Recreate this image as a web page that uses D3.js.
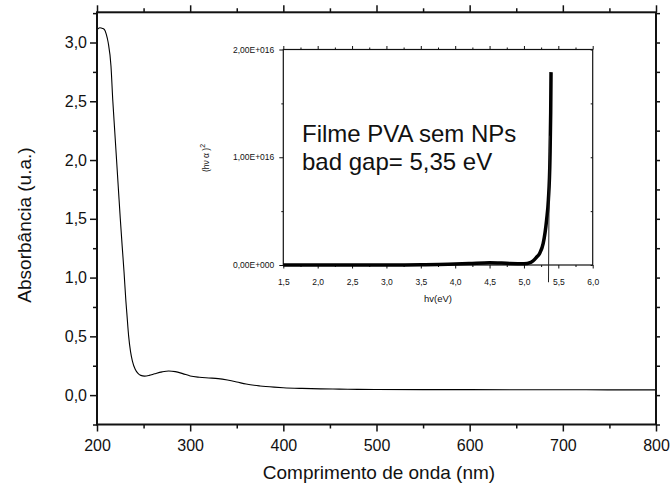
<!DOCTYPE html>
<html>
<head>
<meta charset="utf-8">
<script src="https://cdn.jsdelivr.net/npm/d3@7"></script>
<style>
  body { margin: 0; background: #fff; }
  svg { display: block; font-family: "Liberation Sans", Arial, sans-serif; }
  .tick text { fill: #111; }
</style>
</head>
<body>
<svg class="chart" width="670" height="491"></svg>
<script>
// main spectrum
const wavelength = [200, 203, 206, 208, 210, 212, 215, 217, 219, 221, 223, 225, 227, 229, 231, 232, 234, 236, 238, 241, 244, 247, 251, 256, 262, 270, 277, 284, 292, 300, 310, 320, 330, 340, 350, 360, 375, 390, 400, 420, 440, 460, 480, 500, 550, 600, 650, 700, 750, 800]
const absorbance = [3.11, 3.125, 3.12, 3.11, 3.07, 3.0, 2.8, 2.5, 2.25, 2.0, 1.75, 1.5, 1.27, 1.05, 0.8, 0.7, 0.5, 0.37, 0.29, 0.22, 0.185, 0.168, 0.162, 0.168, 0.182, 0.198, 0.205, 0.2, 0.183, 0.163, 0.152, 0.146, 0.14, 0.128, 0.112, 0.094, 0.078, 0.068, 0.063, 0.057, 0.053, 0.051, 0.049, 0.048, 0.047, 0.047, 0.046, 0.046, 0.045, 0.045]

// inset: Tauc plot
const energy = [1.5, 2.0, 2.5, 3.0, 3.5, 3.9, 4.2, 4.5, 4.8, 5.0, 5.1, 5.18, 5.23, 5.28, 5.33, 5.355, 5.379, 5.389, 5.394]
const tauc = [0, 0, 0, 0, 0.002e16, 0.006e16, 0.013e16, 0.022e16, 0.014e16, 0.012e16, 0.025e16, 0.07e16, 0.11e16, 0.2e16, 0.42e16, 0.6e16, 1.0e16, 1.41e16, 1.79e16]
const gapEnergy = [5.372, 5.357]
const gapTauc = [1.2e16, -0.16e16]

const xMajor = [200, 300, 400, 500, 600, 700, 800]
const xMinor = [250, 350, 450, 550, 650, 750]
const yMajor = [0, 0.5, 1.0, 1.5, 2.0, 2.5, 3.0]
const yMinor = [-0.25, 0.25, 0.75, 1.25, 1.75, 2.25, 2.75, 3.25]
const insetXMajor = [1.5, 2.0, 2.5, 3.0, 3.5, 4.0, 4.5, 5.0, 5.5, 6.0]
const insetXMinor = [1.75, 2.25, 2.75, 3.25, 3.75, 4.25, 4.75, 5.25, 5.75]
const insetYMajor = [0, 1e16, 2e16]
const insetYMinor = [0.5e16, 1.5e16]
const insetYLabels = ["0,00E+000", "1,00E+016", "2,00E+016"]

const pt = d3.formatLocale({decimal: ",", thousands: ".", grouping: [3], currency: ["R$", ""]})
const fmt1 = pt.format(".1f")

const svg = d3.select('.chart')

const x = d3.scaleLinear([200, 800], [97, 656])
const y = d3.scaleLinear([-0.25, 3.257], [424.5, 12.3])

// minor ticks first, then majors with labels
function ticks(g, axis, vals, size, labels) {
    const a = axis.tickValues(vals).tickSize(size).tickSizeOuter(0)
    if (!labels) a.tickFormat('')
    g.call(a)
    g.select('.domain').remove()
    g.selectAll('.tick line').attr('stroke', '#111').attr('stroke-width', 1.5)
    return g
}

ticks(svg.append('g').attr('transform', 'translate(0,424.5)'), d3.axisBottom(x), xMinor, 4)
ticks(svg.append('g').attr('transform', 'translate(0,424.5)'), d3.axisBottom(x).tickPadding(8), xMajor, 7, true)
    .selectAll('text').attr('font-size', '16px')
ticks(svg.append('g').attr('transform', 'translate(0,12.3)'), d3.axisTop(x), xMinor, 4)
ticks(svg.append('g').attr('transform', 'translate(0,12.3)'), d3.axisTop(x), xMajor, 7)

ticks(svg.append('g').attr('transform', 'translate(97,0)'), d3.axisLeft(y), yMinor, 4)
ticks(svg.append('g').attr('transform', 'translate(97,0)'), d3.axisLeft(y).tickPadding(3).tickFormat(fmt1), yMajor, 7, true)
    .selectAll('text').attr('font-size', '16px')
ticks(svg.append('g').attr('transform', 'translate(656,0)'), d3.axisRight(y), yMinor.concat(yMajor), 4)

svg.append('path')
    .datum(wavelength.map((w, i) => [w, absorbance[i]]))
    .attr('fill', 'none')
    .attr('stroke', '#000')
    .attr('stroke-width', 1.1)
    .attr('d', d3.line().x(d => x(d[0])).y(d => y(d[1])).curve(d3.curveMonotoneX))

svg.append('rect')
    .attr('x', x(200)).attr('y', y(3.257))
    .attr('width', x(800) - x(200)).attr('height', y(-0.25) - y(3.257))
    .attr('fill', 'none').attr('stroke', '#111').attr('stroke-width', 2)

svg.append('text')
    .text('Comprimento de onda (nm)')
    .attr('x', 379).attr('y', 479)
    .attr('text-anchor', 'middle')
    .attr('font-size', '19px').attr('fill', '#111')

svg.append('text')
    .text('Absorbância (u.a.)')
    .attr('transform', 'translate(31,225) rotate(-90)')
    .attr('text-anchor', 'middle')
    .attr('font-size', '19px').attr('fill', '#111')

// inset
const ix = d3.scaleLinear([1.5, 6.0], [283.3, 592.7])
const iy = d3.scaleLinear([0, 2e16], [265, 49.5])

svg.append('rect')
    .attr('x', ix(1.5)).attr('y', iy(2e16))
    .attr('width', ix(6) - ix(1.5)).attr('height', iy(0) - iy(2e16))
    .attr('fill', '#fff')

const inset = svg.append('g')
function smallTicks(g, w) {
    g.select('.domain').remove()
    g.selectAll('.tick line').attr('stroke', '#111').attr('stroke-width', w)
    g.selectAll('.tick text').attr('font-size', '8.5px')
    return g
}
smallTicks(inset.append('g').attr('transform', 'translate(0,265)')
    .call(d3.axisBottom(ix).tickValues(insetXMinor).tickSize(2).tickSizeOuter(0).tickFormat('')), 1)
smallTicks(inset.append('g').attr('transform', 'translate(0,265)')
    .call(d3.axisBottom(ix).tickValues(insetXMajor).tickSize(3.5).tickSizeOuter(0).tickPadding(10).tickFormat(fmt1)), 1)
smallTicks(inset.append('g').attr('transform', 'translate(0,49.5)')
    .call(d3.axisTop(ix).tickValues(insetXMinor).tickSize(2).tickSizeOuter(0).tickFormat('')), 1)
smallTicks(inset.append('g').attr('transform', 'translate(0,49.5)')
    .call(d3.axisTop(ix).tickValues(insetXMajor).tickSize(3.5).tickSizeOuter(0).tickFormat('')), 1)
smallTicks(inset.append('g').attr('transform', 'translate(283.3,0)')
    .call(d3.axisLeft(iy).tickValues(insetYMinor).tickSize(2).tickSizeOuter(0).tickFormat('')), 1)
smallTicks(inset.append('g').attr('transform', 'translate(283.3,0)')
    .call(d3.axisLeft(iy).tickValues(insetYMajor).tickSize(4).tickSizeOuter(0).tickPadding(5)
        .tickFormat((d, i) => insetYLabels[i])), 1)
smallTicks(inset.append('g').attr('transform', 'translate(592.7,0)')
    .call(d3.axisLeft(iy).tickValues(insetYMinor.concat(insetYMajor)).tickSize(2).tickSizeOuter(0).tickFormat('')), 1)

inset.append('rect')
    .attr('x', ix(1.5)).attr('y', iy(2e16))
    .attr('width', ix(6) - ix(1.5)).attr('height', iy(0) - iy(2e16))
    .attr('fill', 'none').attr('stroke', '#111').attr('stroke-width', 1.2)

inset.append('path')
    .datum(energy.map((e, i) => [e, tauc[i]]))
    .attr('fill', 'none')
    .attr('stroke', '#000')
    .attr('stroke-width', 3.5)
    .attr('d', d3.line().x(d => ix(d[0])).y(d => iy(d[1])).curve(d3.curveMonotoneX))

inset.append('path')
    .datum(gapEnergy.map((e, i) => [e, gapTauc[i]]))
    .attr('fill', 'none')
    .attr('stroke', '#222')
    .attr('stroke-width', 1)
    .attr('d', d3.line().x(d => ix(d[0])).y(d => iy(d[1])))

inset.append('text')
    .text('hv(eV)')
    .attr('x', 438).attr('y', 301.5)
    .attr('text-anchor', 'middle')
    .attr('font-size', '9.5px').attr('fill', '#111')

const ylab = inset.append('text')
    .attr('transform', 'translate(209,158) rotate(-90)')
    .attr('text-anchor', 'middle')
    .attr('font-size', '8.5px').attr('fill', '#111')
ylab.append('tspan').text('(hν α )')
ylab.append('tspan').text('2').attr('dy', -4).attr('font-size', '7px')

inset.append('text')
    .text('Filme PVA sem NPs')
    .attr('x', 302).attr('y', 141.5)
    .attr('font-size', '24px').attr('fill', '#111')

inset.append('text')
    .text('bad gap= 5,35 eV')
    .attr('x', 302).attr('y', 170)
    .attr('font-size', '24px').attr('fill', '#111')
</script>
</body>
</html>
